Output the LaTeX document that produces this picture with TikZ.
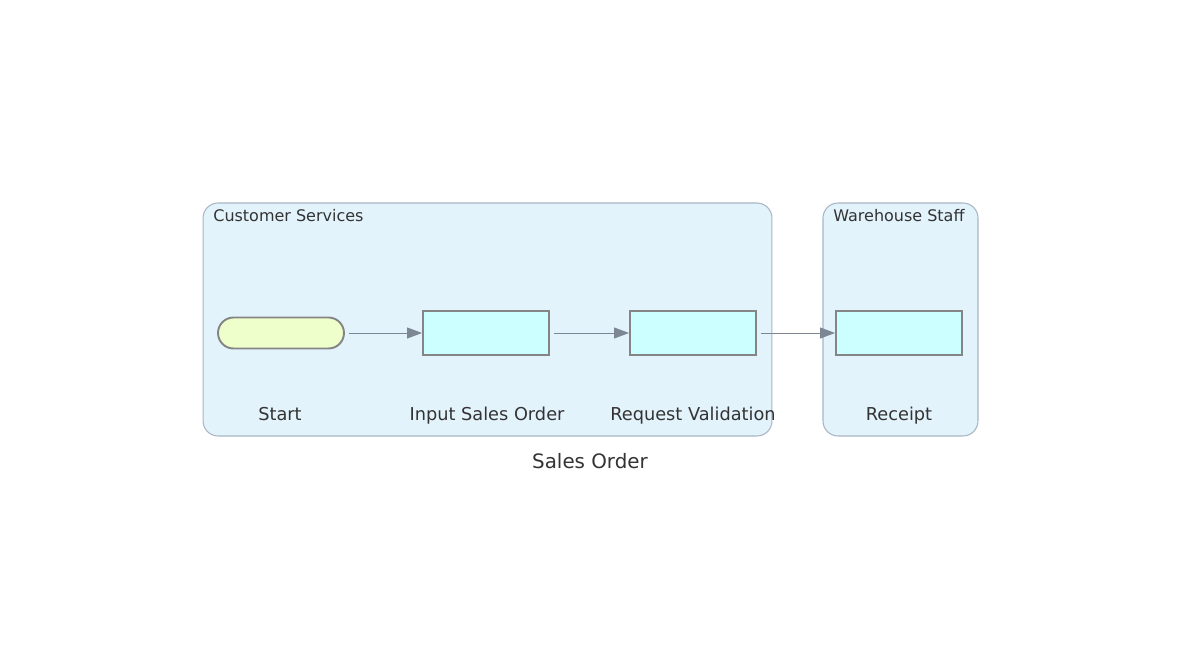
\documentclass[tikz,border=0pt]{standalone}
\usepackage{fontspec}
\setmainfont{DejaVu Sans}
\usetikzlibrary{arrows.meta}

\definecolor{lanefill}{HTML}{E3F3FC}
\definecolor{laneline}{HTML}{A8B6C3}
\definecolor{taskfill}{HTML}{CCFFFF}
\definecolor{startfill}{HTML}{EEFFCC}
\definecolor{shapeline}{HTML}{858585}
\definecolor{flowline}{HTML}{7C8793}
\definecolor{ink}{HTML}{333333}

\tikzset{
    lane/.style args={#1/#2}{
        draw=laneline, fill=lanefill, line width=0.6pt, rounded corners=0.3cm,
        minimum width=#1cm, minimum height=#2cm, inner sep=0pt
    },
    lanetitle/.style={text=ink, font=\fontsize{9.1}{10}\selectfont, anchor=west, inner sep=0pt},
    task/.style={draw=shapeline, fill=taskfill, line width=1.1pt,
        minimum width=2.52cm, minimum height=0.88cm, inner sep=0pt},
    startev/.style={draw=shapeline, fill=startfill, line width=1.1pt, rounded corners=0.31cm,
        minimum width=2.52cm, minimum height=0.62cm, inner sep=0pt},
    tasklabel/.style={text=ink, font=\fontsize{10.1}{12}\selectfont, inner sep=0pt, anchor=base},
    flow/.style={draw=flowline, line width=0.55pt, shorten <=0.08cm,
        -{Triangle[length=0.3cm,width=0.22cm]}}
}

\begin{document}
\begin{tikzpicture}[x=0.02cm, y=-0.02cm]
    \useasboundingbox (0,0) rectangle (1181,672);

    % lanes
    \node[lane=11.38/4.66] (custlane) at (487.5,319.5) {};
    \node[lane=3.1/4.66] (warelane) at (900.5,319.5) {};
    \node[lanetitle] (custtitle) at (213,216) {Customer Services};
    \node[lanetitle] (waretitle) at (833,216) {Warehouse Staff};

    % shapes
    \node[startev] (start) at (281,333) {};
    \node[task] (input) at (486,333) {};
    \node[task] (request) at (693,333) {};
    \node[task] (receipt) at (899,333) {};

    \node[tasklabel] (startlbl) at (280,420) {Start};
    \node[tasklabel] (inputlbl) at (487,420) {Input Sales Order};
    \node[tasklabel] (requestlbl) at (693,420) {Request Validation};
    \node[tasklabel] (receiptlbl) at (899,420) {Receipt};

    % flows
    \draw[flow] (start) -- (input);
    \draw[flow] (input) -- (request);
    \draw[flow] (request) -- (receipt);

    \node[text=ink, font=\fontsize{11.3}{13}\selectfont, inner sep=0pt] (caption) at (590,461) {Sales Order};
\end{tikzpicture}
\end{document}
